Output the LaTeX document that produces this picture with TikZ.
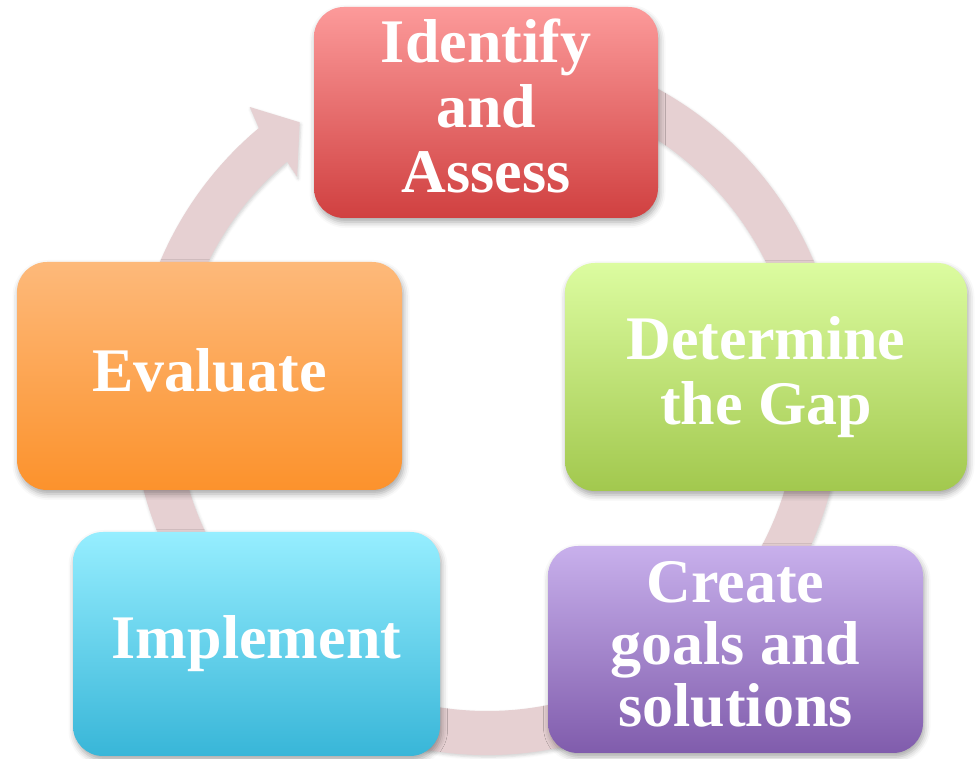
\documentclass[tikz,border=0pt]{standalone}
\usepackage{fontspec}
\setmainfont{Liberation Serif}
\usetikzlibrary{calc,shadows.blur}
\definecolor{ringc}{RGB}{230,208,210}
\definecolor{redT}{RGB}{252,154,154}
\definecolor{redB}{RGB}{208,64,64}
\definecolor{grnT}{RGB}{220,252,160}
\definecolor{grnB}{RGB}{162,200,78}
\definecolor{purT}{RGB}{200,176,236}
\definecolor{purB}{RGB}{128,92,172}
\definecolor{cyaT}{RGB}{150,238,255}
\definecolor{cyaB}{RGB}{56,182,216}
\definecolor{orgT}{RGB}{253,185,122}
\definecolor{orgB}{RGB}{252,146,44}
\begin{document}
\begin{tikzpicture}[x=1pt,y=1pt,
  stepbox/.style={rectangle, rounded corners=30pt, inner sep=0pt,
    blur shadow={shadow xshift=1.5pt, shadow yshift=-4pt, shadow blur radius=6pt, shadow opacity=35}},
  lbl/.style={text=white, font=\bfseries\fontsize{62}{65}\selectfont, inner sep=0pt, anchor=base},
  ringstyle/.style={fill=ringc, blur shadow={shadow xshift=1pt, shadow yshift=-2pt, shadow blur radius=3pt, shadow opacity=18}}
]
\useasboundingbox (0,0) rectangle (975,759);
\coordinate (c) at (487,359);
% cycle ring with arrowhead
\path[ringstyle] ($(c)+(112:355)$) arc[start angle=112, end angle=-230, radius=355]
  -- ($(c)+(129:377)$) -- ($(c)+(124:335)$) -- ($(c)+(130.4:293)$)
  -- ($(c)+(130:311)$) arc[start angle=130, end angle=472, radius=311] -- cycle;
% boxes
\node[stepbox, top color=redT, bottom color=redB, minimum width=344pt, minimum height=211pt] (identify) at (486,646.5) {};
\node[stepbox, top color=grnT, bottom color=grnB, minimum width=402pt, minimum height=228pt] (gap) at (766,382) {};
\node[stepbox, top color=purT, bottom color=purB, minimum width=375pt, minimum height=207pt] (create) at (735.5,109.5) {};
\node[stepbox, top color=cyaT, bottom color=cyaB, minimum width=367pt, minimum height=224pt] (implement) at (256.5,115) {};
\node[stepbox, top color=orgT, bottom color=orgB, minimum width=385pt, minimum height=228pt] (evaluate) at (209.5,383) {};
% labels
\node[lbl] (identifyT) at (486,696) {\begin{tabular}[t]{@{}c@{}}Identify\\and\\Assess\end{tabular}};
\node[lbl] (gapT) at (766,399) {\begin{tabular}[t]{@{}c@{}}Determine\\the Gap\end{tabular}};
\node[lbl, font=\bfseries\fontsize{62}{62}\selectfont] (createT) at (735.5,156) {\begin{tabular}[t]{@{}c@{}}Create\\goals and\\solutions\end{tabular}};
\node[lbl] (implementT) at (256.5,100) {Implement};
\node[lbl] (evaluateT) at (209.5,367) {Evaluate};
\end{tikzpicture}
\end{document}
